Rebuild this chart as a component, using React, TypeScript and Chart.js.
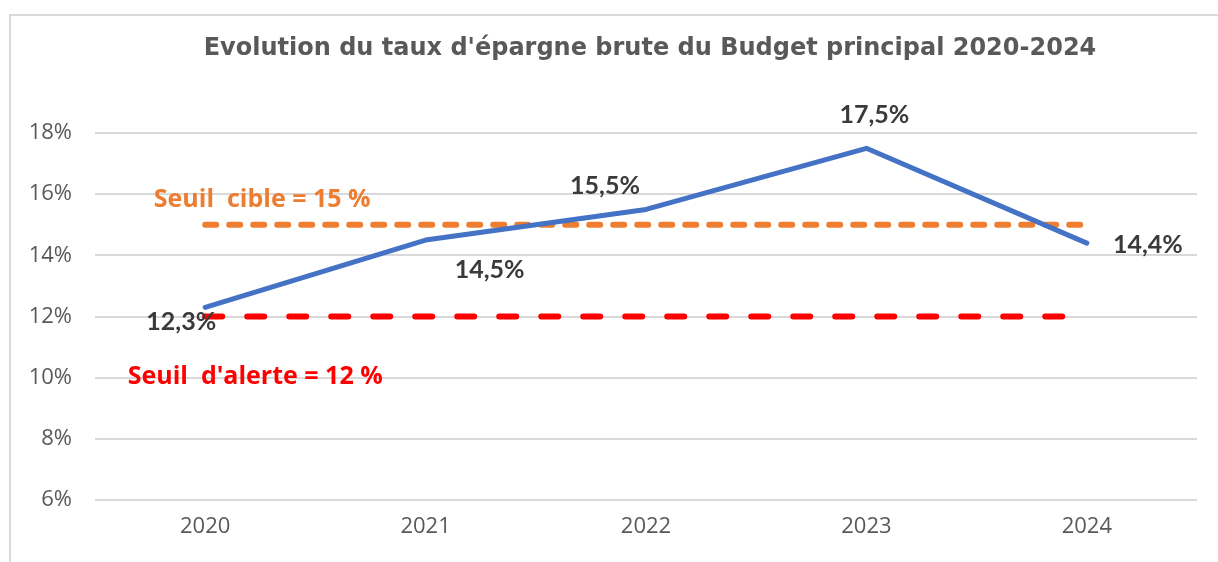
import React, { useEffect, useRef } from "react";
import { Chart, registerables } from "chart.js";

Chart.register(...registerables);

const TITLE = "Evolution du taux d'épargne brute du Budget principal 2020-2024";
const years = ["2020", "2021", "2022", "2023", "2024"];
const tauxEpargne = [12.3, 14.5, 15.5, 17.5, 14.4];
const seuilCible = [15, 15, 15, 15, 15];
const seuilAlerte = [12, 12, 12, 12, 12];
const yTicks = [6, 8, 10, 12, 14, 16, 18];
const seuilCibleLabel = "Seuil  cible = 15 %";
const seuilAlerteLabel = "Seuil  d'alerte = 12 %";

// label placement relative to each point (layout only)
const labelOffsets: [number, number][] = [
  [-24, 15],
  [64, 30],
  [-41, -24],
  [8, -33],
  [61, 2],
];

const fmt = (v: number) => v.toFixed(1).replace(".", ",") + "%";

const labelsPlugin = {
  id: "customLabels",
  afterDatasetsDraw(chart: any) {
    const ctx = chart.ctx;
    const meta = chart.getDatasetMeta(0);
    const area = chart.chartArea;
    ctx.save();
    ctx.textAlign = "center";
    ctx.textBaseline = "middle";
    // title, centred over the plot area
    ctx.font = "bold 24px 'DejaVu Sans'";
    ctx.fillStyle = "#595959";
    ctx.fillText(TITLE, (area.left + area.right) / 2 + 4, 33);

    ctx.font = "bold 25px Lato";
    ctx.fillStyle = "#3a3a3a";
    meta.data.forEach((pt: any, i: number) => {
      const [dx, dy] = labelOffsets[i];
      ctx.fillText(fmt(tauxEpargne[i]), pt.x + dx, pt.y + dy);
    });
    const xs = chart.scales.x;
    const ys = chart.scales.y;
    const x0 = xs.getPixelForValue(0);
    ctx.font = "bold 25px 'Open Sans'";
    ctx.fillStyle = "#ED7D31";
    ctx.fillText(seuilCibleLabel, x0 + 57, ys.getPixelForValue(seuilCible[0]) - 25);
    ctx.fillStyle = "#FF0000";
    ctx.fillText(seuilAlerteLabel, x0 + 50, ys.getPixelForValue(seuilAlerte[0]) + 60);
    ctx.restore();
  },
};

export default function App() {
  const ref = useRef<HTMLCanvasElement>(null);
  useEffect(() => {
    if (!ref.current) return;
    const chart = new Chart(ref.current, {
      type: "line",
      data: {
        labels: years,
        datasets: [
          {
            label: "Taux d'épargne brute",
            data: tauxEpargne,
            borderColor: "#4472C4",
            borderWidth: 5,
            pointRadius: 0,
            tension: 0,
            borderCapStyle: "round",
            borderJoinStyle: "round",
          },
          {
            label: "Seuil cible",
            data: seuilCible,
            borderColor: "#ED7D31",
            borderWidth: 6,
            borderDash: [11, 13],
            borderCapStyle: "round",
            pointRadius: 0,
          },
          {
            label: "Seuil d'alerte",
            data: seuilAlerte,
            borderColor: "#FF0000",
            borderWidth: 6,
            borderDash: [17, 25],
            borderCapStyle: "round",
            pointRadius: 0,
          },
        ],
      },
      options: {
        responsive: false,
        animation: false,
        layout: { padding: { left: 0, right: 21, top: 117, bottom: 0 } },
        plugins: {
          legend: { display: false },
          tooltip: { enabled: false },
          title: { display: false },
        },
        scales: {
          x: {
            offset: true,
            grid: { display: false },
            border: { display: false },
            ticks: {
              color: "#595959",
              font: { family: "Open Sans", size: 22 },
              padding: 6,
            },
            afterFit: (s: any) => {
              s.height = 62;
            },
          },
          y: {
            min: 6,
            max: 18,
            afterBuildTicks: (s: any) => {
              s.ticks = yTicks.map((v) => ({ value: v }));
            },
            grid: { color: "#d9d9d9", lineWidth: 2, drawTicks: false },
            border: { display: false },
            ticks: {
              color: "#595959",
              font: { family: "Open Sans", size: 22 },
              padding: 23,
              callback: (v: any) => v + "%",
            },
            afterFit: (s: any) => {
              s.width = 84;
            },
          },
        },
      },
      plugins: [labelsPlugin],
    });
    return () => chart.destroy();
  }, []);

  return (
    <div style={{ position: "fixed", left: 0, top: 0, width: 1218, height: 562, background: "#fff", overflow: "hidden" }}>
      <div
        style={{
          position: "absolute",
          left: 9,
          top: 14,
          width: 1300,
          height: 700,
          borderLeft: "2px solid #d9d9d9",
          borderTop: "2px solid #d9d9d9",
        }}
      />
      <canvas ref={ref} width={1207} height={546} style={{ position: "absolute", left: 11, top: 16, display: "block" }} />
    </div>
  );
}
